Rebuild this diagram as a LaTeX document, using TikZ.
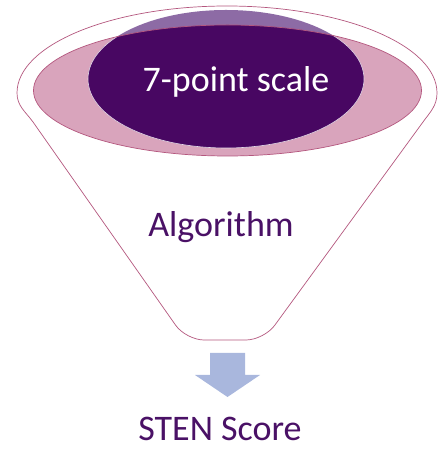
\documentclass[tikz,border=0pt]{standalone}
\usepackage{fontspec}
\setmainfont{Carlito}
\usetikzlibrary{positioning}
\definecolor{clrrim}{HTML}{B4577E}
\definecolor{clrpink}{HTML}{D9A4BC}
\definecolor{clrcap}{HTML}{8D6BA5}
\definecolor{clrdeep}{HTML}{480762}
\definecolor{clrtext}{HTML}{4A1166}
\definecolor{clrarrow}{HTML}{A9B7DD}
\begin{document}
\begin{tikzpicture}[
    x=1pt, y=1pt,
    every node/.style={font=\fontsize{36}{40}\selectfont},
    rim/.style={draw=clrrim, line width=0.7pt},
    bigtext/.style={anchor=base, inner sep=0pt},
    blockarrow/.style={fill=clrarrow, draw=none},
]
\useasboundingbox (0,0) rectangle (439,452);
% funnel outline
\draw[rim, fill=white] (17,359) arc[start angle=180, end angle=0, x radius=210, y radius=87]
    to[out=-90, in=54] (423,330) [rounded corners=18pt] -- (264,112) -- (186,112) [sharp corners] -- (33,330)
    to[out=126, in=-90] cycle;
% mouth of the funnel
\fill[clrpink] (227.5,361.5) ellipse[x radius=194, y radius=65.5];
\fill[clrcap] (226,373) ellipse[x radius=138, y radius=69];
\begin{scope}
    \clip (227.5,361.5) ellipse[x radius=194, y radius=65.5];
    \draw[fill=clrdeep, draw=white!85!clrdeep, line width=0.6pt] (226,373) ellipse[x radius=138, y radius=69];
\end{scope}
\draw[rim] (227.5,361.5) ellipse[x radius=194, y radius=65.5];
% labels
\node[bigtext, text=white] (scale) at (236,360) {7-point scale};
\node[bigtext, text=clrtext] (algo) at (221,215) {Algorithm};
\node[bigtext, text=clrtext] (sten) at (220,12) {STEN Score};
% arrow
\coordinate (arrowtop) at (227.5,99);
\fill[blockarrow, shift={(arrowtop)}] (-17.5,0) -- (17.5,0) -- (17.5,-22) -- (32.5,-22) -- (0,-44) -- (-32.5,-22) -- (-17.5,-22) -- cycle;
\end{tikzpicture}
\end{document}
